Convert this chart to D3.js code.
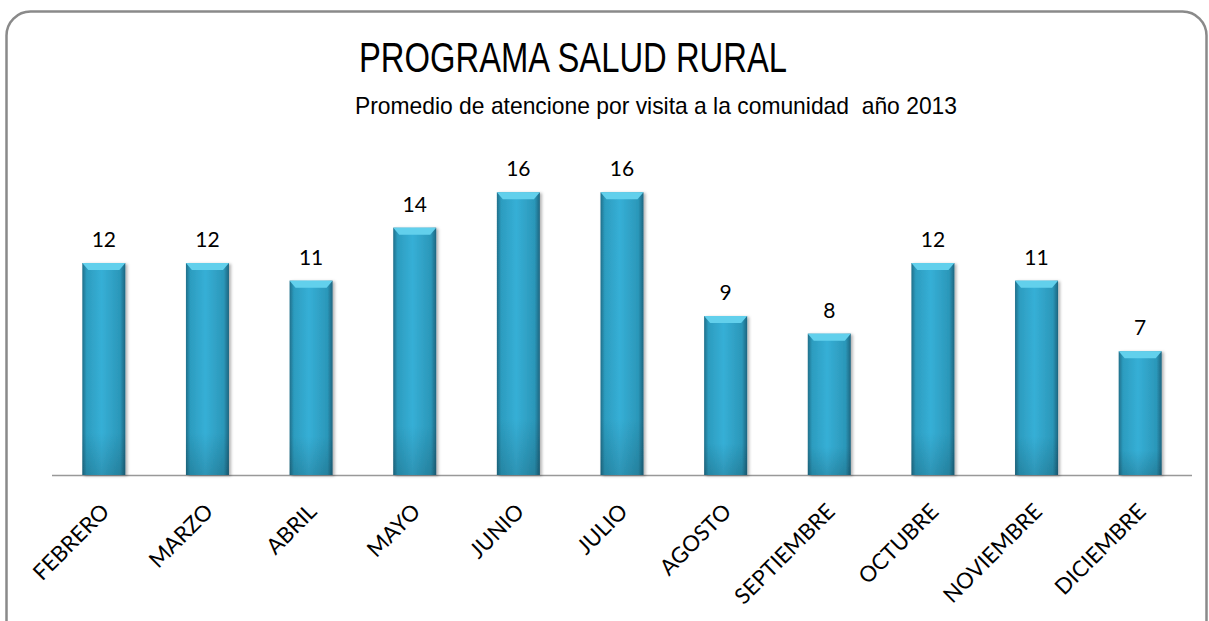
<!DOCTYPE html>
<html>
<head>
<meta charset="utf-8">
<title>Programa Salud Rural</title>
<script src="https://d3js.org/d3.v7.min.js"></script>
<style>
  body { margin: 0; background: #fff; }
</style>
</head>
<body>
<script>
// data
var meses = ["FEBRERO", "MARZO", "ABRIL", "MAYO", "JUNIO", "JULIO", "AGOSTO",
             "SEPTIEMBRE", "OCTUBRE", "NOVIEMBRE", "DICIEMBRE"]
var promedio = [12, 12, 11, 14, 16, 16, 9, 8, 12, 11, 7]
var titulo = "PROGRAMA SALUD RURAL"
var subtitulo = "Promedio de atencione por visita a la comunidad  año 2013"

var width = 1209,
    height = 621,
    left = 52, right = 1192,
    base = 475

var svg = d3.select("body").append("svg")
    .attr("width", width)
    .attr("height", height)

// gradients for the bars
var defs = svg.append("defs")
var g1 = defs.append("linearGradient").attr("id", "barGrad")
    .attr("x1", "0").attr("x2", "1").attr("y1", "0").attr("y2", "0")
g1.append("stop").attr("offset", "0%").attr("stop-color", "#206f8a")
g1.append("stop").attr("offset", "10%").attr("stop-color", "#2c9cbf")
g1.append("stop").attr("offset", "45%").attr("stop-color", "#36afd6")
g1.append("stop").attr("offset", "88%").attr("stop-color", "#2b97b9")
g1.append("stop").attr("offset", "100%").attr("stop-color", "#1d6580")

var g2 = defs.append("linearGradient").attr("id", "vGrad")
    .attr("x1", "0").attr("x2", "0").attr("y1", "0").attr("y2", "1")
g2.append("stop").attr("offset", "0%").attr("stop-color", "#fff").attr("stop-opacity", 0)
g2.append("stop").attr("offset", "80%").attr("stop-color", "#000").attr("stop-opacity", 0.0)
g2.append("stop").attr("offset", "100%").attr("stop-color", "#000").attr("stop-opacity", 0.15)

var sh = defs.append("filter").attr("id", "shadow")
    .attr("x", "-20%").attr("y", "-10%").attr("width", "150%").attr("height", "130%")
sh.append("feDropShadow").attr("dx", 2).attr("dy", 1).attr("stdDeviation", 1.5)
    .attr("flood-color", "#000").attr("flood-opacity", 0.3)

// frame
svg.append("rect")
    .attr("x", 6.5).attr("y", 11.5)
    .attr("width", 1200).attr("height", 640)
    .attr("rx", 24).attr("ry", 24)
    .attr("fill", "#fff")
    .attr("stroke", "#8a8a8a")
    .attr("stroke-width", 2.5)

var x = d3.scaleBand()
    .domain(meses)
    .range([left, right])
    .paddingInner(0.585)
    .paddingOuter(0.2925)

var y = d3.scaleLinear()
    .domain([0, 12])
    .range([base, 263])

// titles
svg.append("text")
    .attr("x", 573).attr("y", 72)
    .attr("text-anchor", "middle")
    .attr("textLength", 428).attr("lengthAdjust", "spacingAndGlyphs")
    .style("font-family", "Liberation Sans, Arial, sans-serif")
    .style("font-size", "42px")
    .text(titulo)

svg.append("text")
    .attr("x", 656).attr("y", 114)
    .attr("text-anchor", "middle")
    .attr("textLength", 602).attr("lengthAdjust", "spacingAndGlyphs")
    .style("font-family", "Liberation Sans, Arial, sans-serif")
    .style("font-size", "24px")
    .style("white-space", "pre")
    .text(subtitulo)

// axis line
svg.append("line")
    .attr("x1", left).attr("x2", right)
    .attr("y1", base + 0.5).attr("y2", base + 0.5)
    .attr("stroke", "#999").attr("stroke-width", 1.5)

// bars
var bars = svg.selectAll(".bar")
    .data(meses)
    .enter().append("g")
    .attr("class", "bar")
    .attr("filter", "url(#shadow)")

bars.append("rect")
    .attr("x", d => x(d))
    .attr("y", (d, i) => y(promedio[i]))
    .attr("width", x.bandwidth())
    .attr("height", (d, i) => base - y(promedio[i]))
    .attr("fill", "url(#barGrad)")

bars.append("rect")
    .attr("x", d => x(d))
    .attr("y", (d, i) => y(promedio[i]))
    .attr("width", x.bandwidth())
    .attr("height", (d, i) => base - y(promedio[i]))
    .attr("fill", "url(#vGrad)")

// top bevel
bars.append("path")
    .attr("d", function(d, i) {
      var x0 = x(d), x1 = x(d) + x.bandwidth(), t = y(promedio[i])
      return "M" + x0 + "," + t + "L" + x1 + "," + t +
             "L" + (x1 - 6) + "," + (t + 7) + "L" + (x0 + 6) + "," + (t + 7) + "Z"
    })
    .attr("fill", "#62d0ec")

// value labels
svg.selectAll(".val")
    .data(meses)
    .enter().append("text")
    .attr("class", "val")
    .attr("x", d => x(d) + x.bandwidth() / 2)
    .attr("y", (d, i) => y(promedio[i]) - 16)
    .attr("text-anchor", "middle")
    .style("font-family", "Lato, 'Open Sans', sans-serif")
    .style("font-size", "21px")
    .text((d, i) => promedio[i])

// category labels
svg.selectAll(".cat")
    .data(meses)
    .enter().append("text")
    .attr("class", "cat")
    .attr("text-anchor", "end")
    .attr("transform", d => "translate(" + (x(d) + x.bandwidth() / 2 + 7) + "," + 513 + ") rotate(-45)")
    .style("font-family", "Lato, 'Open Sans', sans-serif")
    .style("font-size", "22px")
    .text(d => d)
</script>
</body>
</html>
